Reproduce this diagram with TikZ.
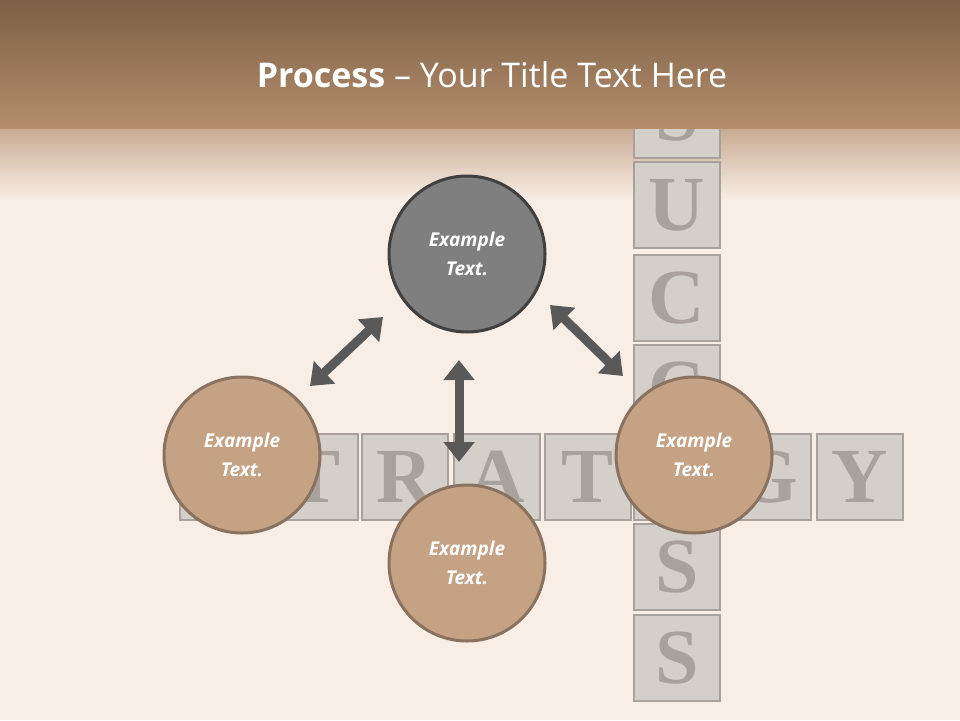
\documentclass[tikz,border=0pt]{standalone}
\usepackage{fontspec}
\setmainfont{Open Sans}
\newfontfamily\tilefont{Liberation Serif}
\usetikzlibrary{arrows.meta}
\definecolor{bg}{HTML}{F8EEE6}
\definecolor{bandtop}{HTML}{7D5F45}
\definecolor{bandbot}{HTML}{B48E6D}
\definecolor{tile}{HTML}{CFC9C4}
\definecolor{tileletter}{HTML}{A9A29C}
\definecolor{tan}{HTML}{C4A283}
\definecolor{tanb}{HTML}{8A7260}
\definecolor{darkc}{HTML}{7F7F7F}
\definecolor{arr}{HTML}{595959}
\tikzset{
  tilebox/.style={fill=tile!85!bg, draw=tileletter, line width=1.5pt, minimum size=86pt, inner sep=0pt,
    font=\tilefont\fontsize{78}{78}\selectfont\bfseries, text=tileletter},
  circ/.style={circle, minimum size=156pt, line width=3pt, text=white,
    font=\fontsize{19}{29}\selectfont\bfseries\itshape, align=center, inner sep=0pt},
  tancirc/.style={circ, fill=tan, draw=tanb},
  darkcirc/.style={circ, fill=darkc, draw=black!75},
  dbl/.style={draw=arr, line width=9pt, {Triangle[width=30pt,length=20pt]}-{Triangle[width=30pt,length=20pt]}}
}
\begin{document}
\begin{tikzpicture}[x=1pt,y=-1pt]
\useasboundingbox (0,0) rectangle (960,720);
\fill[bg] (0,0) rectangle (960,720);
\shade[top color=bandbot!70!bg, bottom color=bg] (0,128) rectangle (960,200);
% tiles
\foreach \l/\x in {S/223,T/315,R/405,A/497,T/588,G/768,Y/860}
  \node[tilebox] (h\x) at (\x,477) {\l};
\foreach \l/\y in {S/115,U/205,C/298,C/388,E/477,S/567,S/658}
  \node[tilebox] (v\y) at (677,\y) {\l};
% top band
\shade[top color=bandtop, bottom color=bandbot] (0,0) rectangle (960,128);
\node[text=white, font=\fontsize{34}{40}\selectfont] (title) at (492,75)
  {\textbf{Process} – Your Title Text Here};
% circles
\node[darkcirc] (top) at (467,254) {Example\\Text.};
\node[tancirc] (left) at (242,455) {Example\\Text.};
\node[tancirc] (right) at (694,455) {Example\\Text.};
\node[tancirc] (bot) at (467,563) {Example\\Text.};
% arrows
\coordinate (a1) at (310,386); \coordinate (a2) at (383,317);
\coordinate (b1) at (550,305); \coordinate (b2) at (623,376);
\coordinate (c1) at (459,360); \coordinate (c2) at (459,462);
\draw[dbl] (a1) -- (a2);
\draw[dbl] (b1) -- (b2);
\draw[dbl] (c1) -- (c2);
\end{tikzpicture}
\end{document}
